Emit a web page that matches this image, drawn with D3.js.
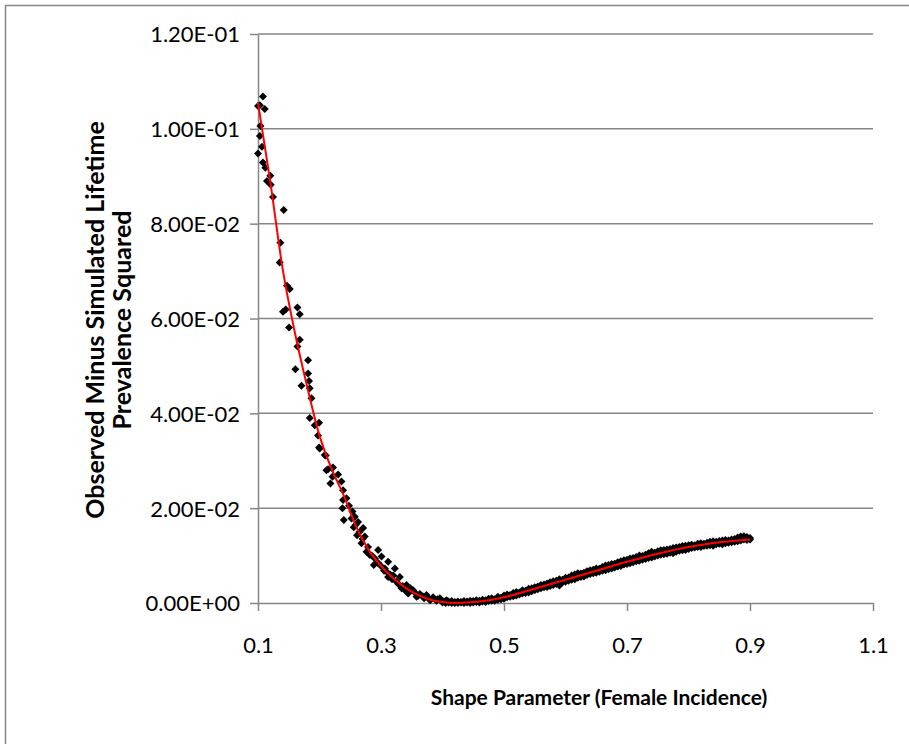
<!DOCTYPE html>
<html>
<head>
<meta charset="utf-8">
<script src="https://cdn.jsdelivr.net/npm/d3@7"></script>
<style>
  body { margin: 0; background: #fff; }
  svg { display: block; }
  .tick-label { font-family: Lato, "Open Sans", sans-serif; font-size: 22px; fill: #000; }
  .axis-title { font-family: Lato, "Open Sans", sans-serif; font-weight: bold; fill: #000; }
</style>
</head>
<body>
<div></div>
<script>
'use strict';

// Tick values and labels
var xTicks = [0.1, 0.3, 0.5, 0.7, 0.9, 1.1];
var xTickLabels = ["0.1", "0.3", "0.5", "0.7", "0.9", "1.1"];
var yTicks = [0, 0.02, 0.04, 0.06, 0.08, 0.10, 0.12];
var yTickLabels = ["0.00E+00", "2.00E-02", "4.00E-02", "6.00E-02", "8.00E-02", "1.00E-01", "1.20E-01"];

// Simulated points: [shape parameter, squared difference]
var points = [
  [0.100,0.1048],[0.103,0.1050],[0.108,0.1068],[0.111,0.1042],[0.104,0.1006],[0.103,0.0985],
  [0.1065,0.0962],[0.100,0.0948],[0.108,0.0929],[0.112,0.0918],[0.120,0.0901],[0.1146,0.0890],
  [0.1207,0.0882],[0.1244,0.0856],[0.1418,0.0829],[0.1364,0.0760],[0.1353,0.0718],
  [0.1472,0.0669],[0.1516,0.0662],[0.1407,0.0614],[0.1451,0.0619],[0.1641,0.0623],[0.1679,0.0609],
  [0.1505,0.0581],[0.1679,0.0555],[0.1641,0.0541],[0.1814,0.0512],[0.1608,0.0493],[0.1814,0.0484],
  [0.1830,0.0468],[0.1706,0.0458],[0.1841,0.0453],[0.1869,0.0432],[0.1841,0.0390],[0.1923,0.0375],
  [0.1993,0.0380],[0.1976,0.0353],[0.2004,0.0326],[0.2102,0.0311],[0.2220,0.0286],[0.2139,0.0282],
  [0.1993,0.0328],[0.2085,0.0312],[0.2113,0.0280],[0.2204,0.0284],[0.2302,0.0271],[0.2211,0.0266],
  [0.2178,0.0252],[0.2357,0.0256],[0.2383,0.0238],[0.2383,0.0217],[0.2439,0.0221],[0.2373,0.0200],
  [0.2536,0.0193],[0.2395,0.0175],[0.2574,0.0182],[0.2627,0.0171],[0.2557,0.0160],[0.2709,0.0158],
  [0.2611,0.0143],[0.2736,0.0140],[0.2683,0.0126],[0.2764,0.0108],[0.2953,0.0112],[0.2818,0.0101],
  [0.3008,0.0098],[0.2883,0.0080],[0.3116,0.0087],[0.3062,0.0073],[0.3225,0.0073],[0.3116,0.0055],
  [0.3306,0.0055],[0.3252,0.0045],[0.3415,0.0038],[0.3334,0.0031],[0.3522,0.0027],[0.3441,0.0020],
  [0.3631,0.0019],[0.3740,0.0017],[0.3578,0.0013],[0.3848,0.0012],[0.3957,0.0010],[0.4066,0.0006],
  [0.2480,0.0205],[0.2520,0.0178],[0.2590,0.0165],[0.2650,0.0150],[0.2700,0.0135],[0.2790,0.0118],
  [0.2850,0.0100],[0.2900,0.0094],[0.2950,0.0085],[0.3000,0.0078],[0.3050,0.0068],[0.3100,0.0065],
  [0.3150,0.0060],[0.3180,0.0050],[0.3200,0.0058],[0.3280,0.0040],[0.3350,0.0036],[0.3380,0.0028],
  [0.3460,0.0025],[0.3480,0.0031],[0.3550,0.0022],[0.3600,0.0015],[0.3680,0.0014],[0.3700,0.0010],
  [0.3780,0.0009],[0.3800,0.0006],[0.3900,0.0005],[0.3920,0.0008],
  [0.400,0.0005],[0.400,0.0001],[0.405,0.0004],[0.405,0.0000],[0.410,0.0003],[0.410,0.0001],
  [0.415,0.0004],[0.415,0.0000],[0.420,0.0002],[0.420,0.0000],[0.425,0.0003],[0.425,0.0000],
  [0.430,0.0002],[0.430,0.0001],[0.435,0.0004],[0.435,0.0000],[0.440,0.0003],[0.440,0.0001],
  [0.445,0.0005],[0.445,0.0000],[0.450,0.0004],[0.450,0.0001],[0.455,0.0006],[0.455,0.0002],
  [0.460,0.0005],[0.460,0.0001],[0.465,0.0007],[0.465,0.0003],[0.470,0.0006],[0.470,0.0002],
  [0.475,0.0009],[0.475,0.0004],[0.480,0.0010],[0.480,0.0005],[0.485,0.0008],[0.485,0.0005],
  [0.490,0.0013],[0.490,0.0007],[0.495,0.0011],[0.495,0.0008],[0.500,0.0016],[0.500,0.0009],
  [0.505,0.0018],[0.505,0.0012],[0.510,0.0017],[0.510,0.0013],[0.515,0.0021],[0.515,0.0014],
  [0.520,0.0023],[0.520,0.0016],[0.525,0.0022],[0.525,0.0018],[0.530,0.0027],[0.530,0.0020],
  [0.535,0.0026],[0.535,0.0021],[0.540,0.0030],[0.540,0.0022],[0.545,0.0031],[0.545,0.0025],
  [0.550,0.0033],[0.550,0.0027],[0.555,0.0035],[0.555,0.0029],[0.560,0.0038],[0.560,0.0031],
  [0.565,0.0039],[0.565,0.0033],[0.570,0.0041],[0.570,0.0034],[0.575,0.0044],[0.575,0.0036],
  [0.580,0.0046],[0.580,0.0038],[0.585,0.0047],[0.585,0.0040],[0.590,0.0050],[0.590,0.0037],
  [0.595,0.0049],[0.595,0.0043],[0.600,0.0053],[0.600,0.0045],[0.605,0.0054],[0.605,0.0047],
  [0.610,0.0058],[0.610,0.0049],[0.615,0.0060],[0.615,0.0050],[0.620,0.0063],[0.620,0.0053],
  [0.625,0.0062],[0.625,0.0055],[0.630,0.0064],[0.630,0.0056],[0.635,0.0067],[0.635,0.0059],
  [0.640,0.0069],[0.640,0.0061],[0.645,0.0070],[0.645,0.0063],[0.650,0.0073],[0.650,0.0064],
  [0.655,0.0072],[0.655,0.0066],[0.660,0.0076],[0.660,0.0068],[0.665,0.0079],[0.665,0.0069],
  [0.670,0.0080],[0.670,0.0071],[0.675,0.0082],[0.675,0.0073],[0.680,0.0083],[0.680,0.0075],
  [0.685,0.0086],[0.685,0.0077],[0.690,0.0088],[0.690,0.0078],[0.695,0.0090],[0.695,0.0081],
  [0.700,0.0091],[0.700,0.0082],[0.705,0.0094],[0.705,0.0084],[0.710,0.0095],[0.710,0.0086],
  [0.715,0.0097],[0.715,0.0088],[0.720,0.0100],[0.720,0.0089],[0.725,0.0099],[0.725,0.0091],
  [0.730,0.0102],[0.730,0.0093],[0.735,0.0105],[0.735,0.0095],[0.740,0.0108],[0.740,0.0096],
  [0.745,0.0106],[0.745,0.0098],[0.750,0.0109],[0.750,0.0100],[0.755,0.0111],[0.755,0.0102],
  [0.760,0.0112],[0.760,0.0103],[0.765,0.0113],[0.765,0.0104],[0.770,0.0114],[0.770,0.0106],
  [0.775,0.0116],[0.775,0.0105],[0.780,0.0117],[0.780,0.0108],[0.785,0.0118],[0.785,0.0110],
  [0.790,0.0120],[0.790,0.0111],[0.795,0.0121],[0.795,0.0112],[0.800,0.0122],[0.800,0.0114],
  [0.805,0.0123],[0.805,0.0116],[0.810,0.0122],[0.810,0.0117],[0.815,0.0125],[0.815,0.0118],
  [0.820,0.0126],[0.820,0.0118],[0.825,0.0125],[0.825,0.0120],[0.830,0.0127],[0.830,0.0121],
  [0.835,0.0129],[0.835,0.0122],[0.840,0.0130],[0.840,0.0121],[0.845,0.0129],[0.845,0.0124],
  [0.850,0.0131],[0.850,0.0125],[0.855,0.0132],[0.855,0.0124],[0.860,0.0133],[0.860,0.0126],
  [0.865,0.0132],[0.865,0.0127],[0.870,0.0134],[0.870,0.0128],[0.875,0.0135],[0.875,0.0129],
  [0.880,0.0138],[0.880,0.0130],[0.885,0.0140],[0.885,0.0132],[0.890,0.0141],[0.890,0.0134],
  [0.895,0.0139],[0.895,0.0133],[0.900,0.0137],[0.900,0.0134]
];

// Red trend line
var trendX = [0.10, 0.12, 0.14, 0.16, 0.18, 0.20, 0.22, 0.24, 0.26, 0.28, 0.30, 0.32, 0.34, 0.36,
              0.38, 0.40, 0.42, 0.44, 0.46, 0.50, 0.55, 0.60, 0.65, 0.70, 0.75, 0.80, 0.85, 0.90];
var trendY = [0.1055, 0.0888, 0.0705, 0.0570, 0.0456, 0.0353, 0.0282, 0.0225, 0.0160, 0.0112,
              0.0078, 0.0052, 0.0032, 0.0017, 0.0007, 0.0002, 0.0000, 0.0001, 0.0003, 0.0012,
              0.0030, 0.0049, 0.0068, 0.0087, 0.0104, 0.0118, 0.0128, 0.0134];

var svgWidth = 909;
var svgHeight = 744;
var margin = {top: 34, left: 258, right: 36, bottom: 141};
var chartWidth = svgWidth - margin.left - margin.right;
var chartHeight = svgHeight - margin.top - margin.bottom;
var gridColor = "#868686";

var xScale = d3.scaleLinear().domain([0.1, 1.1]).range([0, chartWidth]);
var yScale = d3.scaleLinear().domain([0, 0.12]).range([chartHeight, 0]);

var svg = d3.select("body").select("div")
  .append("svg")
    .attr("width", svgWidth)
    .attr("height", svgHeight);

// outer chart frame (cut off at right and bottom)
svg.append("rect")
    .attr("x", 5.5).attr("y", 5.5)
    .attr("width", 1000).attr("height", 1000)
    .attr("fill", "none")
    .attr("stroke", gridColor)
    .attr("stroke-width", 1.5);

var chart = svg.append("g")
    .attr("transform", "translate(" + margin.left + "," + margin.top + ")");

// horizontal gridlines
chart.append("g")
  .selectAll("line")
  .data(yTicks.slice(1))
  .enter().append("line")
    .attr("x1", 0).attr("x2", chartWidth)
    .attr("y1", function(d) { return yScale(d); })
    .attr("y2", function(d) { return yScale(d); })
    .attr("stroke", gridColor)
    .attr("stroke-width", 1.5);

// x axis
var xAxis = chart.append("g")
    .attr("transform", "translate(0," + chartHeight + ")")
    .call(d3.axisBottom(xScale).tickValues(xTicks).tickSize(8).tickSizeOuter(0)
      .tickFormat(function(d, i) { return xTickLabels[i]; }));
xAxis.select(".domain").attr("stroke", gridColor).attr("stroke-width", 1.5);
xAxis.selectAll(".tick line").attr("stroke", gridColor).attr("stroke-width", 1.5);
xAxis.selectAll(".tick text")
    .attr("class", "tick-label")
    .attr("font-family", null).attr("font-size", null)
    .attr("y", 0).attr("dy", "50px");

// y axis
var yAxis = chart.append("g")
    .call(d3.axisLeft(yScale).tickValues(yTicks).tickSize(8).tickSizeOuter(0)
      .tickFormat(function(d, i) { return yTickLabels[i]; }));
yAxis.select(".domain").attr("stroke", gridColor).attr("stroke-width", 1.5);
yAxis.selectAll(".tick line").attr("stroke", gridColor).attr("stroke-width", 1.5);
yAxis.selectAll(".tick text")
    .attr("class", "tick-label")
    .attr("font-family", null).attr("font-size", null)
    .attr("x", -18).attr("dy", "0.36em");

// scatter points (diamonds)
chart.append("g")
  .selectAll("path")
  .data(points)
  .enter().append("path")
    .attr("d", "M0,-4L4,0L0,4L-4,0Z")
    .attr("transform", function(d) {
      return "translate(" + xScale(d[0]) + "," + yScale(d[1]) + ")";
    })
    .attr("fill", "#000");

// trend line
var trendLine = d3.line()
    .x(function(d, i) { return xScale(trendX[i]); })
    .y(function(d) { return yScale(d); })
    .curve(d3.curveMonotoneX);

chart.append("path")
    .datum(trendY)
    .attr("fill", "none")
    .attr("stroke", "#ff0000")
    .attr("stroke-width", 2)
    .attr("d", trendLine);

// axis titles
svg.append("text")
    .attr("class", "axis-title")
    .attr("font-size", 21)
    .attr("text-anchor", "middle")
    .attr("x", 599)
    .attr("y", 705)
    .text("Shape Parameter (Female Incidence)");

var yTitle = svg.append("text")
    .attr("class", "axis-title")
    .attr("font-size", 25)
    .attr("text-anchor", "middle")
    .attr("transform", "translate(104,320) rotate(-90)");
yTitle.append("tspan").attr("x", 0).attr("y", 0).text("Observed Minus Simulated Lifetime");
yTitle.append("tspan").attr("x", 0).attr("y", 27).text("Prevalence Squared");
</script>
</body>
</html>
